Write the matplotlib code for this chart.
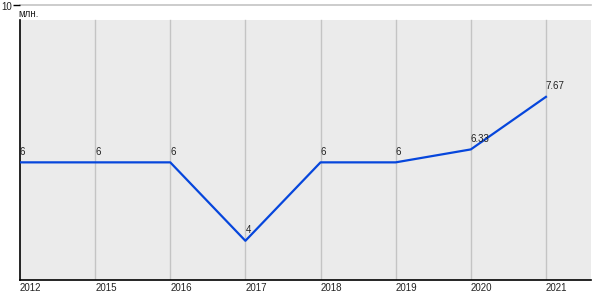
import matplotlib
matplotlib.use("Agg")
import matplotlib.pyplot as plt
from matplotlib.patches import Rectangle

years = ["2012", "2015", "2016", "2017", "2018", "2019", "2020", "2021"]
values = [6, 6, 6, 4, 6, 6, 6.33, 7.67]
labels = ["6", "6", "6", "4", "6", "6", "6.33", "7.67"]
unit = "млн."

plt.rcParams['font.family'] = ['Liberation Sans', 'DejaVu Sans']

fig = plt.figure(figsize=(6, 3), dpi=100)
ax = fig.add_axes([20/600, 20/300, 571/600, 274.5/300])
ax.set_facecolor("white")
ax.set_xlim(0, 7.6)
ax.set_ylim(3, 10)

top_frac = (280 - 20) / 274.5
ax.add_patch(Rectangle((0, 0), 1, top_frac, transform=ax.transAxes,
                       facecolor="#ebebeb", edgecolor="none", zorder=0))
x = list(range(len(years)))
for xi in x[1:]:
    ax.plot([xi, xi], [0, top_frac], transform=ax.get_xaxis_transform(),
            color="#c4c4c4", lw=1, zorder=1)
ax.axhline(10, color="#c4c4c4", lw=1.2, zorder=1, clip_on=False)

ax.plot(x, values, color="#0646dc", lw=1.6, zorder=3)
for xi, v, lab in zip(x, values, labels):
    ax.annotate(lab, (xi, v), xytext=(0, 4), textcoords="offset points",
                ha="left", va="bottom", fontsize=7, color="#222222", zorder=4)

for s in ["top", "right"]:
    ax.spines[s].set_visible(False)
ax.spines["left"].set_bounds(3, 3 + 7 * top_frac)
ax.spines["left"].set_linewidth(1.2)
ax.spines["bottom"].set_linewidth(1.2)

ax.set_xticks(x)
ax.set_xticklabels(years, ha="left", fontsize=7, color="#222222")
ax.tick_params(axis="x", length=0, pad=2)
ax.set_yticks([10])
ax.set_yticklabels(["10"], fontsize=7, color="#222222")
ax.tick_params(axis="y", length=5, width=1, pad=1)

fig.text(18/600, 1 - 14/300, unit, fontsize=7, ha="left", va="center", color="#222222")

fig.savefig("out.png", dpi=100)
